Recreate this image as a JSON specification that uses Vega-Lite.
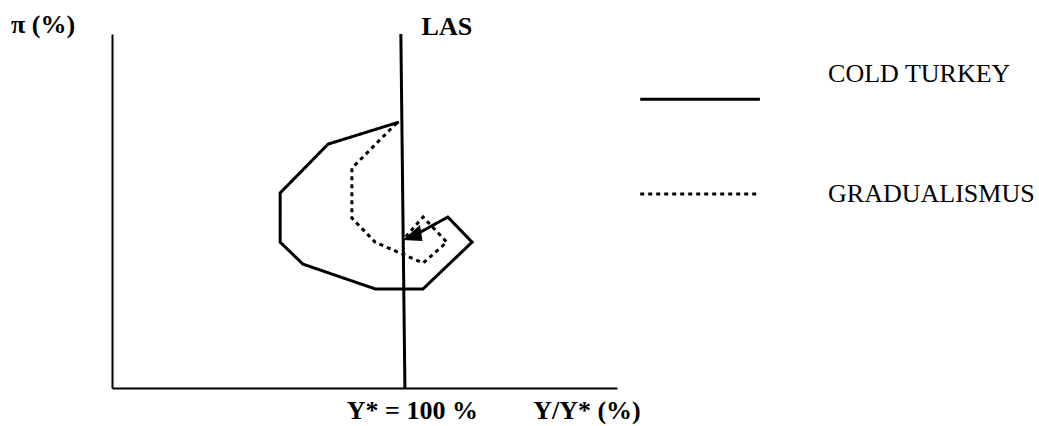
{
  "$schema": "https://vega.github.io/schema/vega-lite/v6.json",
  "autosize": {"type": "none"},
  "padding": {"left": 112, "top": 34, "right": 422, "bottom": 38},
  "width": 505,
  "height": 354,
  "background": "white",
  "config": {"view": {"stroke": null}, "font": "Liberation Serif"},
  "datasets": {
    "paths": [
      {"series": "COLD TURKEY", "step": 1, "output": 98.8, "inflation": 75.1},
      {"series": "COLD TURKEY", "step": 2, "output": 84.8, "inflation": 68.9},
      {"series": "COLD TURKEY", "step": 3, "output": 75.3, "inflation": 55.1},
      {"series": "COLD TURKEY", "step": 4, "output": 75.3, "inflation": 41.2},
      {"series": "COLD TURKEY", "step": 5, "output": 79.8, "inflation": 35.0},
      {"series": "COLD TURKEY", "step": 6, "output": 94.1, "inflation": 28.0},
      {"series": "COLD TURKEY", "step": 7, "output": 103.6, "inflation": 28.0},
      {"series": "COLD TURKEY", "step": 8, "output": 113.3, "inflation": 41.2},
      {"series": "COLD TURKEY", "step": 9, "output": 108.5, "inflation": 48.3},
      {"series": "COLD TURKEY", "step": 10, "output": 101.5, "inflation": 42.8},
      {"series": "GRADUALISMUS", "step": 1, "output": 98.4, "inflation": 74.9},
      {"series": "GRADUALISMUS", "step": 2, "output": 89.5, "inflation": 62.1},
      {"series": "GRADUALISMUS", "step": 3, "output": 89.5, "inflation": 48.0},
      {"series": "GRADUALISMUS", "step": 4, "output": 94.1, "inflation": 41.2},
      {"series": "GRADUALISMUS", "step": 5, "output": 103.6, "inflation": 35.3},
      {"series": "GRADUALISMUS", "step": 6, "output": 108.3, "inflation": 41.2},
      {"series": "GRADUALISMUS", "step": 7, "output": 103.6, "inflation": 48.3},
      {"series": "GRADUALISMUS", "step": 8, "output": 99.6, "inflation": 41.8}
    ],
    "las": [
      {"name": "LAS", "x1": 100.0, "y1": 0, "x2": 99.2, "y2": 100}
    ],
    "arrow": [
      {"output": 99.6, "inflation": 41.8}
    ],
    "legend": [
      {"series": "COLD TURKEY", "x1": 146.6, "x2": 170.3, "y": 81.6, "tx": 183.8, "ty": 88.7},
      {"series": "GRADUALISMUS", "x1": 146.6, "x2": 169.7, "y": 54.8, "tx": 183.8, "ty": 54.8}
    ],
    "labels": [
      {"text": "π (%)", "x": 22.0, "y": 102.5},
      {"text": "LAS", "x": 103.3, "y": 102.0},
      {"text": "Y* = 100 %", "x": 88.5, "y": -6.5},
      {"text": "Y/Y* (%)", "x": 125.4, "y": -6.5}
    ]
  },
  "layer": [
    {
      "data": {"name": "las"},
      "mark": {"type": "rule", "color": "black", "strokeWidth": 3},
      "encoding": {
        "x": {"field": "x1", "type": "quantitative", "scale": {"domain": [42, 142], "nice": false, "zero": false},
              "axis": {"domain": true, "domainColor": "black", "domainWidth": 2, "ticks": false, "labels": false, "grid": false, "title": null}},
        "x2": {"field": "x2"},
        "y": {"field": "y1", "type": "quantitative", "scale": {"domain": [0, 100], "nice": false, "zero": false},
              "axis": {"domain": true, "domainColor": "black", "domainWidth": 2, "ticks": false, "labels": false, "grid": false, "title": null}},
        "y2": {"field": "y2"}
      }
    },
    {
      "data": {"name": "paths"},
      "mark": {"type": "line", "color": "black", "strokeWidth": 3, "strokeJoin": "miter", "strokeCap": "butt"},
      "encoding": {
        "x": {"field": "output", "type": "quantitative"},
        "y": {"field": "inflation", "type": "quantitative"},
        "order": {"field": "step"},
        "detail": {"field": "series"},
        "strokeDash": {"field": "series", "type": "nominal", "scale": {"domain": ["COLD TURKEY", "GRADUALISMUS"], "range": [[1, 0], [4, 4]]}, "legend": null}
      }
    },
    {
      "data": {"name": "arrow"},
      "mark": {"type": "point", "shape": "M0,0L1.71,-1.5L1.96,0.1Z", "size": 400, "filled": true, "color": "black", "opacity": 1, "strokeWidth": 0},
      "encoding": {
        "x": {"field": "output", "type": "quantitative"},
        "y": {"field": "inflation", "type": "quantitative"}
      }
    },
    {
      "data": {"name": "legend"},
      "mark": {"type": "rule", "color": "black", "strokeWidth": 3},
      "encoding": {
        "x": {"field": "x1", "type": "quantitative"},
        "x2": {"field": "x2"},
        "y": {"field": "y", "type": "quantitative"},
        "strokeDash": {"field": "series", "type": "nominal", "scale": {"domain": ["COLD TURKEY", "GRADUALISMUS"], "range": [[1, 0], [4, 4]]}, "legend": null}
      }
    },
    {
      "data": {"name": "legend"},
      "mark": {"type": "text", "align": "left", "baseline": "middle", "fontSize": 26, "font": "Liberation Serif", "color": "black"},
      "encoding": {
        "x": {"field": "tx", "type": "quantitative"},
        "y": {"field": "ty", "type": "quantitative"},
        "text": {"field": "series"}
      }
    },
    {
      "data": {"name": "labels"},
      "mark": {"type": "text", "align": "left", "baseline": "middle", "fontSize": 26, "fontWeight": "bold", "font": "Liberation Serif", "color": "black"},
      "encoding": {
        "x": {"field": "x", "type": "quantitative"},
        "y": {"field": "y", "type": "quantitative"},
        "text": {"field": "text"}
      }
    }
  ]
}
